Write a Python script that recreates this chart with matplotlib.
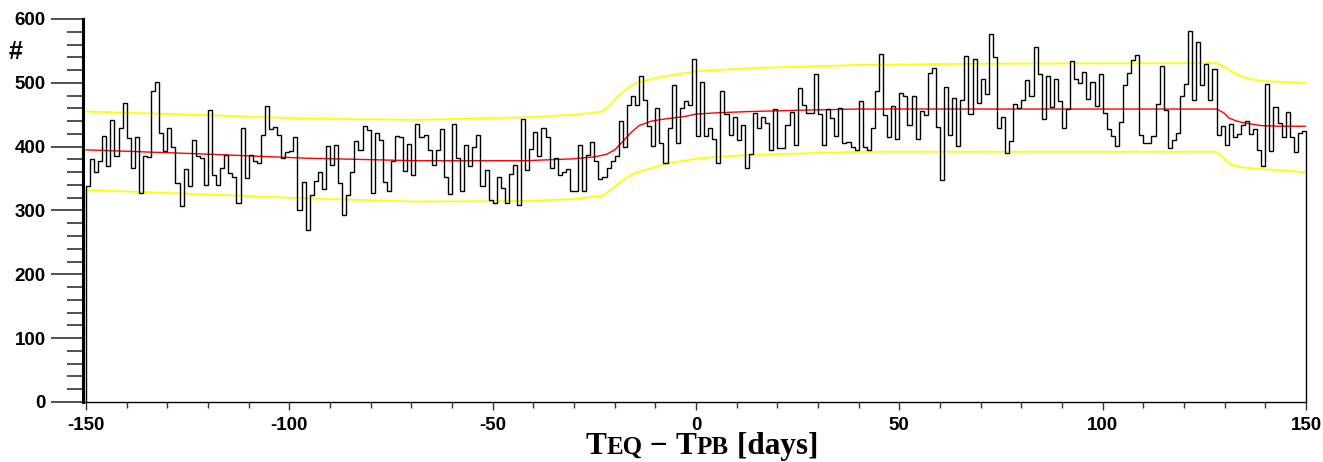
import matplotlib
matplotlib.use("Agg")
import matplotlib.pyplot as plt
import numpy as np
from matplotlib.offsetbox import TextArea, HPacker, AnnotationBbox
from matplotlib.ticker import MultipleLocator

# Daily counts, one bin per day from -150 to +150
counts = [
    339, 380, 361, 377, 417, 369, 441, 385, 430, 469, 413, 367, 415, 327, 385, 384, 487, 502, 421, 393, 429, 399, 343, 307, 365, 338, 410,
    386, 382, 340, 458, 356, 340, 366, 387, 358, 353, 311, 429, 351, 387, 378, 375, 419, 463, 427, 431, 418, 382, 391, 393, 415, 300, 345,
    269, 324, 346, 361, 334, 401, 372, 403, 343, 293, 325, 361, 409, 395, 432, 426, 327, 422, 410, 345, 330, 378, 416, 415, 362, 404, 356,
    435, 415, 419, 395, 371, 394, 427, 353, 326, 435, 383, 330, 403, 369, 399, 419, 339, 364, 316, 312, 353, 335, 312, 357, 372, 308, 444,
    364, 397, 423, 386, 430, 415, 366, 382, 356, 361, 365, 331, 330, 403, 331, 387, 408, 378, 350, 352, 366, 377, 386, 440, 400, 465, 480,
    466, 511, 473, 432, 401, 461, 406, 374, 430, 497, 406, 461, 471, 465, 538, 416, 501, 416, 430, 412, 374, 487, 451, 419, 446, 411, 434,
    366, 388, 453, 429, 447, 437, 395, 459, 398, 398, 434, 454, 403, 492, 466, 453, 452, 514, 451, 403, 459, 445, 417, 461, 406, 407, 400,
    395, 472, 400, 394, 429, 487, 545, 449, 415, 464, 412, 484, 479, 434, 479, 412, 456, 449, 516, 524, 431, 348, 494, 419, 476, 401, 473,
    542, 451, 538, 469, 506, 482, 577, 540, 430, 447, 390, 409, 467, 461, 473, 504, 479, 556, 514, 443, 510, 462, 506, 471, 430, 459, 534,
    506, 499, 517, 474, 502, 464, 514, 453, 428, 416, 401, 438, 496, 515, 535, 543, 419, 406, 406, 416, 467, 527, 458, 398, 410, 421, 480,
    498, 581, 473, 564, 496, 530, 473, 522, 419, 432, 403, 436, 415, 420, 434, 440, 420, 427, 395, 369, 498, 393, 462, 437, 415, 454, 415, 391, 421, 425,
]

# Mean curve (red)
mean_days = [-150, -123, -96, -69, -42, -30, -25, -22, -20, -18, -16, -14, -11, -7, -3, 0, 5, 13, 25, 40, 60,
             128, 129.8, 131, 133, 135, 137, 139, 143, 150]
mean_vals = [395, 389, 382, 378, 378, 381, 384, 388, 395, 408, 422, 433, 440, 444, 447, 451, 453, 455, 457, 459, 459,
             459, 453, 445, 440, 437, 435, 433, 432, 432]

# Upper band (yellow)
upper_days = [-150, -123, -96, -69, -42, -30, -23, -21, -19, -17, -15, -11, -7, -3, 0, 13, 40, 70,
              128, 130.5, 133, 135, 139, 150]
upper_vals = [455, 450, 444, 442, 446, 450, 455, 466, 480, 491, 499, 506, 511, 515, 518, 523, 528, 530,
              531, 523, 513, 508, 503, 500]

# Lower band (yellow)
lower_days = [-150, -123, -96, -69, -42, -30, -23, -21, -19, -17, -15, -11, -7, -3, 0, 5, 13, 40, 70,
              128, 129.8, 131, 133, 135, 139, 150]
lower_vals = [332, 326, 319, 314, 315, 318, 323, 332, 343, 352, 359, 366, 374, 378, 381, 384, 387, 392, 392,
              392, 382, 374, 369, 367, 365, 360]

y_ticks = [0, 100, 200, 300, 400, 500, 600]
x_ticks = [-150, -100, -50, 0, 50, 100, 150]

plt.rcParams["axes.unicode_minus"] = False
plt.rcParams["font.family"] = ["Liberation Sans", "DejaVu Sans"]
plt.rcParams["font.weight"] = "bold"

W, H = 1323, 462
fig = plt.figure(figsize=(W / 100, H / 100), dpi=100)
ax = fig.add_axes([83 / W, 60 / H, (1306 - 83) / W, (402 - 19) / H])

edges = np.arange(-150, 151, 1)
ax.plot(upper_days, upper_vals, color="#ffff00", lw=1.3, zorder=2)
ax.plot(lower_days, lower_vals, color="#ffff00", lw=1.3, zorder=2)
ax.plot(mean_days, mean_vals, color="#ff0000", lw=1.0, zorder=3)
ax.stairs(counts, edges, color="black", lw=1.0, baseline=0, zorder=4, clip_on=False)

ax.set_xlim(-150.74, 150.0)
ax.set_ylim(0, 600)

for s in ("top", "right"):
    ax.spines[s].set_visible(False)
ax.spines["left"].set_linewidth(2.2)
ax.spines["bottom"].set_linewidth(1.0)

ax.set_yticks(y_ticks)
ax.set_xticks(x_ticks)
ax.yaxis.set_minor_locator(MultipleLocator(20))
ax.xaxis.set_minor_locator(MultipleLocator(10))
ax.tick_params(axis="y", which="major", direction="out", length=23, width=1.2,
               labelsize=13.5, pad=4, color="#333333")
ax.tick_params(axis="y", which="minor", direction="out", length=11.5, width=1.2, color="#333333")
ax.tick_params(axis="x", which="major", direction="out", length=6, width=1.0,
               labelsize=13.5, pad=5, color="#333333")
ax.tick_params(axis="x", which="minor", direction="out", length=4, width=1.0, color="#333333")
for lab in ax.get_xticklabels() + ax.get_yticklabels():
    lab.set_fontweight("bold")

fig.text(16 / W, 1 - 52 / H, "#", fontsize=18, fontweight="bold", ha="center", va="center")

# Axis title with small-capital subscripts
serif = ["Liberation Serif", "DejaVu Serif"]
big = dict(fontsize=22.5, fontweight="bold", family=serif, color="black")
small = dict(fontsize=18, fontweight="bold", family=serif, color="black")
parts = [
    TextArea("T", textprops=big),
    TextArea("EQ", textprops=small),
    TextArea(" \u2212 ", textprops=big),
    TextArea("T", textprops=big),
    TextArea("PB", textprops=small),
    TextArea(" [days]", textprops=big),
]
box = HPacker(children=parts, align="baseline", pad=0, sep=0)
ab = AnnotationBbox(box, (702 / W, 1 / H), xycoords="figure fraction",
                    box_alignment=(0.5, 0.0), frameon=False, pad=0)
fig.add_artist(ab)

fig.savefig("out.png", dpi=100)
